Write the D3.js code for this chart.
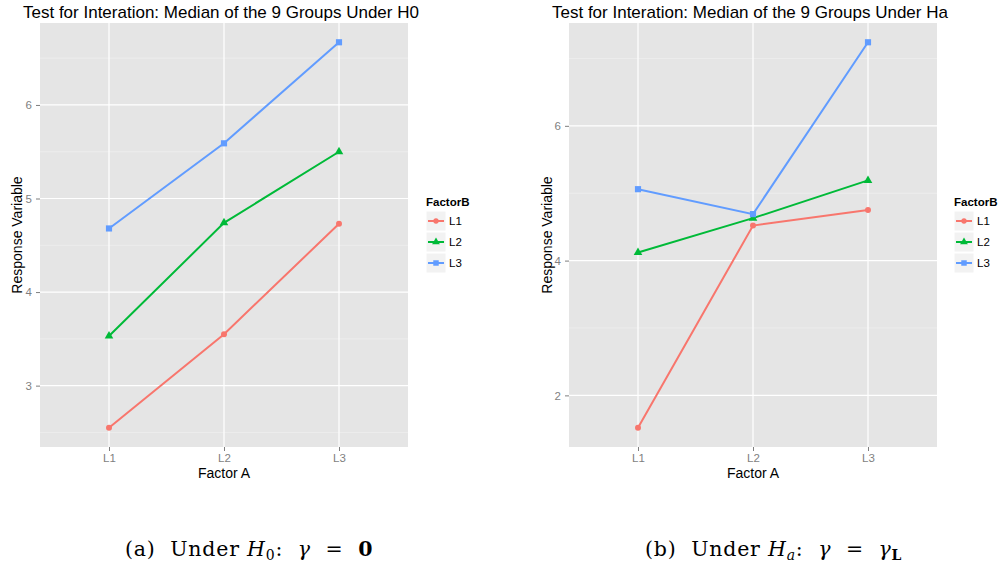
<!DOCTYPE html>
<html>
<head>
<meta charset="utf-8">
<script src="https://cdn.jsdelivr.net/npm/d3@7"></script>
<style>
  body { margin: 0; background: #fff; }
  svg text { font-family: "Liberation Sans", Arial, sans-serif; }
  text.cap { font-family: "DejaVu Serif", "Liberation Serif", serif; }
</style>
</head>
<body>
<svg id="chart" width="1004" height="570"></svg>
<script>
// factor levels
const factorA = ["L1", "L2", "L3"];
const factorB = ["L1", "L2", "L3"];
const colors = ["#F8766D", "#00BA38", "#619CFF"];

// medians under H0 (one array per FactorB level, over Factor A)
const h0L1 = [2.55, 3.55, 4.73];
const h0L2 = [3.53, 4.74, 5.50];
const h0L3 = [4.68, 5.59, 6.67];
const h0Ticks = [3, 4, 5, 6];

// medians under Ha
const haL1 = [1.52, 4.52, 4.75];
const haL2 = [4.12, 4.63, 5.19];
const haL3 = [5.06, 4.69, 7.24];
const haTicks = [2, 4, 6];

const svg = d3.select("#chart");

function panel(opts) {
  const series = opts.series;
  const left = opts.left, right = opts.right, top = 23, bottom = 447;

  const all = d3.merge(series);
  const ext = d3.extent(all);
  const pad = (ext[1] - ext[0]) * 0.05;

  const x = d3.scalePoint()
      .domain(factorA)
      .range([left, right])
      .padding(0.6);
  const y = d3.scaleLinear()
      .domain([ext[0] - pad, ext[1] + pad])
      .range([bottom, top]);

  const g = svg.append("g");

  g.append("rect")
      .attr("x", left).attr("y", top)
      .attr("width", right - left).attr("height", bottom - top)
      .attr("fill", "#E5E5E5");

  // minor grid halfway between the major ones
  const step = opts.ticks[1] - opts.ticks[0];
  const minor = opts.ticks.map(t => t - step / 2)
      .concat([opts.ticks[opts.ticks.length - 1] + step / 2])
      .filter(v => y(v) > top && y(v) < bottom);
  g.selectAll(".minor").data(minor).enter().append("line")
      .attr("x1", left).attr("x2", right)
      .attr("y1", d => y(d)).attr("y2", d => y(d))
      .attr("stroke", "#F2F2F2").attr("stroke-width", 0.6);

  // major grid
  g.selectAll(".hmaj").data(opts.ticks).enter().append("line")
      .attr("x1", left).attr("x2", right)
      .attr("y1", d => y(d)).attr("y2", d => y(d))
      .attr("stroke", "#fff").attr("stroke-width", 1.2);
  g.selectAll(".vmaj").data(factorA).enter().append("line")
      .attr("y1", top).attr("y2", bottom)
      .attr("x1", d => x(d)).attr("x2", d => x(d))
      .attr("stroke", "#fff").attr("stroke-width", 1.2);

  // axes
  const yAxis = d3.axisLeft(y).tickValues(opts.ticks).tickFormat(d3.format("d"))
      .tickSize(4).tickPadding(4);
  const gy = g.append("g").attr("transform", "translate(" + left + ",0)").call(yAxis);
  const xAxis = d3.axisBottom(x).tickSize(4).tickPadding(3);
  const gx = g.append("g").attr("transform", "translate(0," + bottom + ")").call(xAxis);
  [gx, gy].forEach(a => {
    a.select(".domain").remove();
    a.selectAll(".tick line").attr("stroke", "#7F7F7F");
    a.selectAll(".tick text").attr("fill", "#7F7F7F")
        .style("font-size", "11.5px").style("font-family", "Liberation Sans, Arial, sans-serif");
  });

  // lines and points
  const line = d3.line().x((d, i) => x(factorA[i])).y(d => y(d));
  series.forEach((s, k) => {
    g.append("path")
        .attr("d", line(s))
        .attr("fill", "none")
        .attr("stroke", colors[k])
        .attr("stroke-width", 2);
    const sym = [d3.symbolCircle, d3.symbolTriangle, d3.symbolSquare][k];
    const size = [28, 32, 38][k];
    g.selectAll(".pt" + k).data(s).enter().append("path")
        .attr("d", d3.symbol().type(sym).size(size))
        .attr("transform", (d, i) => "translate(" + x(factorA[i]) + "," + y(d) + ")")
        .attr("fill", colors[k]);
  });

  // titles
  g.append("text")
      .attr("x", opts.titleX).attr("y", 18)
      .style("font-size", "17px").attr("fill", "#000")
      .text(opts.title);
  g.append("text")
      .attr("x", (left + right) / 2).attr("y", 478)
      .attr("text-anchor", "middle")
      .style("font-size", "14px")
      .text("Factor A");
  g.append("text")
      .attr("transform", "translate(" + opts.yTitleX + "," + ((top + bottom) / 2) + ") rotate(-90)")
      .attr("text-anchor", "middle")
      .attr("dominant-baseline", "central")
      .style("font-size", "14px")
      .text("Response Variable");

  // legend
  const lg = g.append("g").attr("transform", "translate(" + opts.legendX + ",0)");
  lg.append("text")
      .attr("x", 0).attr("y", 202)
      .attr("dominant-baseline", "central")
      .style("font-size", "11.5px").style("font-weight", "bold")
      .text("FactorB");
  const items = lg.selectAll(".item").data(factorB).enter().append("g")
      .attr("transform", (d, i) => "translate(0," + (211 + i * 21) + ")");
  items.append("rect")
      .attr("width", 20).attr("height", 20)
      .attr("fill", "#F2F2F2").attr("stroke", "#fff").attr("stroke-width", 1);
  items.append("line")
      .attr("x1", 2).attr("x2", 18).attr("y1", 10).attr("y2", 10)
      .attr("stroke", (d, i) => colors[i]).attr("stroke-width", 2);
  items.append("path")
      .attr("d", (d, i) => d3.symbol().type([d3.symbolCircle, d3.symbolTriangle, d3.symbolSquare][i]).size([22, 26, 30][i])())
      .attr("transform", "translate(10,10)")
      .attr("fill", (d, i) => colors[i]);
  items.append("text")
      .attr("x", 23).attr("y", 10)
      .attr("dominant-baseline", "central")
      .style("font-size", "11.5px")
      .text(d => d);
}

panel({
  series: [h0L1, h0L2, h0L3], ticks: h0Ticks,
  left: 40, right: 408, titleX: 23, yTitleX: 16.5, legendX: 426,
  title: "Test for Interation: Median of the 9 Groups Under H0"
});
panel({
  series: [haL1, haL2, haL3], ticks: haTicks,
  left: 569, right: 937, titleX: 552, yTitleX: 546.5, legendX: 954,
  title: "Test for Interation: Median of the 9 Groups Under Ha"
});

// sub-figure captions
function caption(x0, label, sub, rhs) {
  const t = svg.append("text").attr("class", "cap")
      .attr("x", x0).attr("y", 556)
      .style("font-size", "20.5px").style("letter-spacing", "0.8px")
      .attr("fill", "#000")
      .attr("xml:space", "preserve");
  t.append("tspan").text("(" + label + ")  Under ");
  t.append("tspan").style("font-style", "italic").text("H");
  t.append("tspan").attr("dy", 4).style("font-size", "14px")
      .style("font-style", sub === "a" ? "italic" : "normal").text(sub);
  t.append("tspan").attr("dy", -4).text(":  ");
  t.append("tspan").style("font-style", "italic").text("\u03B3");
  t.append("tspan").text("  =  ");
  rhs(t);
}
caption(125, "a", "0", t => t.append("tspan").style("font-weight", "bold").text("0"));
caption(645, "b", "a", t => {
  t.append("tspan").style("font-style", "italic").text("\u03B3");
  t.append("tspan").attr("dy", 4).style("font-size", "14px").style("font-weight", "bold").text("L");
});
</script>
</body>
</html>
